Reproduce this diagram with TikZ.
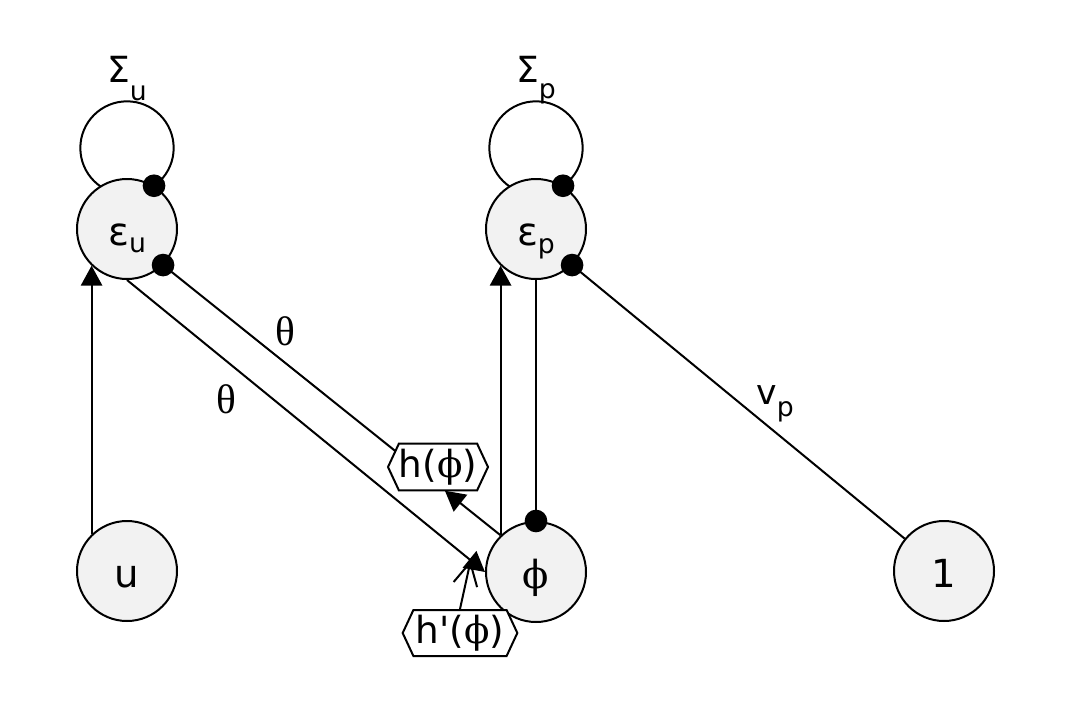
\documentclass[tikz,border=0pt]{standalone}
\usepackage{fontspec}
\setmainfont{DejaVu Sans}
\newfontfamily\grk{Liberation Serif}
\newfontfamily\phifont{DejaVu Serif}
\usetikzlibrary{arrows.meta,shapes.symbols}
\definecolor{nodegray}{RGB}{242,242,242}
\newcommand{\phig}{{\phifont ϕ}}
\newcommand{\lowsub}[2]{\raisebox{-#1}{\fontsize{20}{22}\selectfont #2}}

\begin{document}
\begin{tikzpicture}[x=0.75pt,y=-0.75pt,line width=1.5pt,
    var/.style={circle,draw,fill=nodegray,minimum size=75pt,inner sep=0pt,
        text height=25pt,text depth=0pt,font=\fontsize{29}{34}\selectfont},
    loopc/.style={circle,draw,minimum size=70pt,inner sep=0pt},
    fn/.style={signal,signal to=west and east,signal pointer angle=130,
        draw,fill=white,inner sep=0pt,font=\fontsize{28}{32}\selectfont},
    lbl/.style={anchor=base,inner sep=0pt},
    arr/.style={-{Triangle[length=15pt,width=16pt]}},
    mod/.style={-{Straight Barb[length=17pt,width=18pt]}}]
    \useasboundingbox[fill=white] (0,0) rectangle (1073,710);

    % self loops (behind the error nodes)
    \node[loopc] (Su) at (127,148) {};
    \node[loopc] (Sp) at (536,148) {};

    % variables
    \node[var] (eu) at (127,229) {ε\lowsub{5pt}{u}};
    \node[var] (ep) at (536,229) {ε\lowsub{6pt}{p}};
    \node[var] (u) at (127,571) {u};
    \node[var,font=\phifont\fontsize{29}{34}\selectfont] (phi) at (536,572) {ϕ};
    \node[var] (one) at (944,571) {1};

    % functions
    \node[fn,minimum width=74pt,minimum height=35pt] (h) at (438,467) {h(\phig)};
    \node[fn,minimum width=86pt,minimum height=34.5pt] (hp) at (460,633) {h\textquotesingle(\phig)};

    % labels
    \node[lbl,font=\fontsize{27}{30}\selectfont] (Sulab) at (127,83) {Σ\lowsub{13pt}{u}};
    \node[lbl,font=\fontsize{27}{30}\selectfont] (Splab) at (536,83) {Σ\lowsub{12pt}{p}};
    \node[lbl,font=\grk\fontsize{31}{34}\selectfont] (thA) at (285,345) {θ};
    \node[lbl,font=\grk\fontsize{31}{34}\selectfont] (thB) at (226,413) {θ};
    \node[lbl,font=\fontsize{26}{30}\selectfont] (vp) at (775,404) {v\lowsub{9pt}{p}};

    % connections
    \draw[arr] (u.134) -- (eu.226);
    \draw[arr] (phi.134) -- (ep.226);
    \draw (ep.south) -- (phi.north);
    \draw[arr] (eu.south) -- (phi.west) coordinate[pos=0.96] (mx);
    \path (eu.-45) -- (phi.134) coordinate[pos=0.69] (hin) coordinate[pos=0.835] (hout);
    \draw (eu.-45) -- (hin);
    \draw[arr] (phi.134) -- (hout);
    \draw[mod] (hp.north) -- (mx);
    \draw (ep.-45) -- (one);

    % dots
    \fill (eu.58) circle[radius=8.5pt];
    \fill (eu.-45) circle[radius=8.5pt];
    \fill (ep.58) circle[radius=8.5pt];
    \fill (ep.-45) circle[radius=8.5pt];
    \fill (phi.north) circle[radius=8.5pt];
\end{tikzpicture}
\end{document}
